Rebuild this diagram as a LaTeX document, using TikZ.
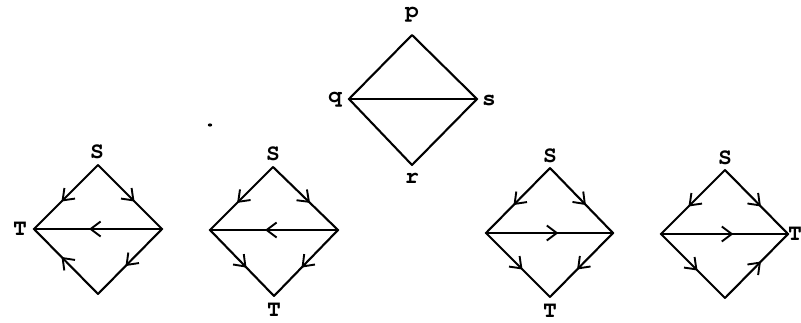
\documentclass[tikz,border=0pt]{standalone}
\usepackage{fontspec}
\newfontfamily\courfont{TeX Gyre Cursor}
\usetikzlibrary{arrows.meta,decorations.markings}
\tikzset{
  edge/.style={line width=2.1pt, line cap=round, line join=round},
  hedge/.style={line width=2.7pt, line cap=round},
  mid/.style={postaction={decorate},decoration={markings,
     mark=at position 0.57 with {\arrow[line width=1.9pt]{Straight Barb[length=10pt,width=15pt]}}}},
  lbl/.style={inner sep=0pt, font=\courfont\bfseries\fontsize{23}{23}\selectfont},
}
\begin{document}
\begin{tikzpicture}[x=1pt,y=-1pt]
\useasboundingbox (0,0) rectangle (801,322);
% top diamond
\coordinate (p) at (412,35);
\coordinate (q) at (349,99);
\coordinate (s) at (477,99);
\coordinate (r) at (412,165);
\node[lbl] (lp) at (412,15) {p};
\node[lbl] (lq) at (335,100) {q};
\node[lbl] (ls) at (489,101) {s};
\node[lbl] (lr) at (412,178) {r};
\draw[edge] (q) -- (p) -- (s) -- (r) -- cycle;
\draw[hedge] (q) -- (s);
% speck
\fill (210,125) ellipse (2.2pt and 1.6pt);

% diagram 1
\coordinate (a1) at (98,165);
\coordinate (b1) at (34,229);
\coordinate (c1) at (162,229);
\coordinate (d1) at (98,294);
\node[lbl] (s1) at (97,152) {S};
\node[lbl] (t1) at (20,229) {T};
\draw[edge,mid] (a1) -- (b1);
\draw[edge,mid] (a1) -- (c1);
\draw[hedge,mid] (c1) -- (b1);
\draw[edge,mid] (c1) -- (d1);
\draw[edge,mid] (d1) -- (b1);

% diagram 2
\coordinate (a2) at (273,167);
\coordinate (b2) at (210,230);
\coordinate (c2) at (338,230);
\coordinate (d2) at (274,296);
\node[lbl] (s2) at (273,154) {S};
\node[lbl] (t2) at (274,310) {T};
\draw[edge,mid] (a2) -- (b2);
\draw[edge,mid] (a2) -- (c2);
\draw[hedge,mid] (c2) -- (b2);
\draw[edge,mid] (b2) -- (d2);
\draw[edge,mid] (c2) -- (d2);

% diagram 3
\coordinate (a3) at (550,168);
\coordinate (b3) at (486,233);
\coordinate (c3) at (613,233);
\coordinate (d3) at (550,297);
\node[lbl] (s3) at (550,156) {S};
\node[lbl] (t3) at (550,311) {T};
\draw[edge,mid] (a3) -- (b3);
\draw[edge,mid] (a3) -- (c3);
\draw[hedge,mid] (b3) -- (c3);
\draw[edge,mid] (b3) -- (d3);
\draw[edge,mid] (c3) -- (d3);

% diagram 4
\coordinate (a4) at (725,170);
\coordinate (b4) at (661,234);
\coordinate (c4) at (788,234);
\coordinate (d4) at (725,298);
\node[lbl] (s4) at (725,158) {S};
\node[lbl,anchor=west] (t4) at (788,234) {T};
\draw[edge,mid] (a4) -- (b4);
\draw[edge,mid] (a4) -- (c4);
\draw[hedge,mid] (b4) -- (c4);
\draw[edge,mid] (b4) -- (d4);
\draw[edge,mid] (d4) -- (c4);
\end{tikzpicture}
\end{document}
